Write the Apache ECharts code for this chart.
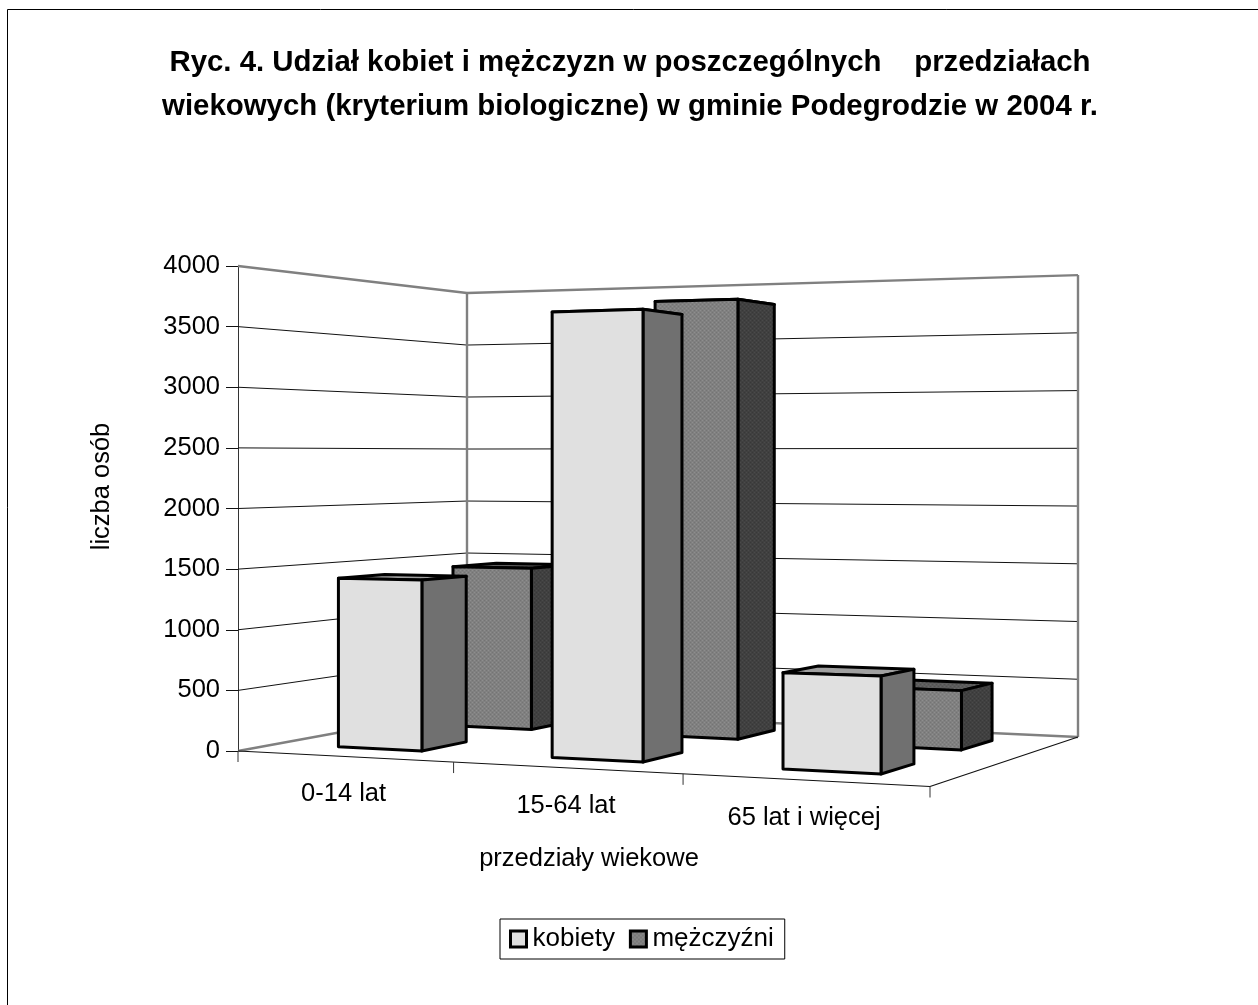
<!DOCTYPE html>
<html>
<head>
<meta charset="utf-8">
<style>html,body{margin:0;padding:0;background:#fff;overflow:hidden}#c{width:1258px;height:1005px}</style>
<script src="https://cdn.jsdelivr.net/npm/echarts@6/dist/echarts.min.js"></script>
</head>
<body>
<div id="c"></div>
<script>
var categories = ['0-14 lat', '15-64 lat', '65 lat i więcej'];
var kobiety = [1410, 3590, 745];
var mezczyzni = [1435, 3780, 490];
var yTicks = [0, 500, 1000, 1500, 2000, 2500, 3000, 3500, 4000];
var categoryBounds = [0, 0.98, 1.977, 3];

var FONT = '"Liberation Sans", Arial, sans-serif';
var gridBox = {left: 238, top: 266, width: 692, height: 485};
// picture of the unit floor: front-left, front-right, back-right, back-left
var floorQuad = [[238, 751], [930, 786.5], [1078, 737], [467, 709]];
var shrink = {u: -0.116, v: 0.166};
// bar edges inside each category band
var startsKobiety = [0.285, 0.283, 0.296];
var endsKobiety = [0.672, 0.686, 0.711];
var startsMezczyzni = [0.305, 0.305, 0.305];
var endsMezczyzni = [0.69, 0.695, 0.72];
var depthKobiety = [0.155, 0.35];
var depthMezczyzni = [0.64, 0.85];

var H = (function () {
  var q = floorQuad;
  var dx1 = q[1][0] - q[2][0], dx2 = q[3][0] - q[2][0], sx = q[0][0] - q[1][0] + q[2][0] - q[3][0];
  var dy1 = q[1][1] - q[2][1], dy2 = q[3][1] - q[2][1], sy = q[0][1] - q[1][1] + q[2][1] - q[3][1];
  var det = dx1 * dy2 - dx2 * dy1;
  var g = (sx * dy2 - dx2 * sy) / det, h = (dx1 * sy - sx * dy1) / det;
  return {
    a: q[1][0] - q[0][0] + g * q[1][0], b: q[3][0] - q[0][0] + h * q[3][0], c: q[0][0],
    d: q[1][1] - q[0][1] + g * q[1][1], e: q[3][1] - q[0][1] + h * q[3][1], f: q[0][1],
    g: g, h: h
  };
})();

// front-plane pixel from the axes -> picture pixel at a depth
function project(p, v) {
  var u = (p[0] - gridBox.left) / gridBox.width;
  var rise = gridBox.top + gridBox.height - p[1];
  var w = H.g * u + H.h * v + 1;
  var X = (H.a * u + H.b * v + H.c) / w;
  var Y = (H.d * u + H.e * v + H.f) / w;
  return [X, Y - rise / (1 + shrink.u * u + shrink.v * v)];
}
function at(api, x, val, v) { return project(api.coord([x, val]), v); }

function tile(base, dark, light) {
  var c = document.createElement('canvas');
  c.width = 4; c.height = 4;
  var t = c.getContext('2d');
  t.fillStyle = base; t.fillRect(0, 0, 4, 4);
  t.fillStyle = dark; t.fillRect(0, 0, 1, 1); t.fillRect(2, 2, 1, 1);
  t.fillStyle = light; t.fillRect(2, 0, 1, 1); t.fillRect(0, 2, 1, 1);
  return {image: c, repeat: 'repeat'};
}
var fillsK = {front: '#e0e0e0', side: '#707070', top: '#a0a0a0'};
var fillsM = {
  front: tile('#808080', '#747474', '#8e8e8e'),
  side: tile('#404040', '#383838', '#4a4a4a'),
  top: tile('#5c5c5c', '#525252', '#666666')
};

function poly(points, fill) {
  return {type: 'polygon', shape: {points: points},
    style: {fill: fill, stroke: '#000', lineWidth: 3, lineJoin: 'round'}, silent: true};
}
function line(a, b, color, width) {
  return {type: 'polyline', shape: {points: [a, b]},
    style: {fill: null, stroke: color, lineWidth: width}, silent: true};
}
function barRenderer(starts, ends, depth, fills) {
  return function (params, api) {
    var i = api.value(0), val = api.value(1);
    var x0 = categoryBounds[i] + starts[i], x1 = categoryBounds[i] + ends[i], v0 = depth[0], v1 = depth[1];
    var fb0 = at(api, x0, 0, v0), fb1 = at(api, x1, 0, v0), bb1 = at(api, x1, 0, v1);
    var ft0 = at(api, x0, val, v0), ft1 = at(api, x1, val, v0);
    var bt1 = at(api, x1, val, v1), bt0 = at(api, x0, val, v1);
    return {type: 'group', children: [
      poly([ft0, ft1, bt1, bt0], fills.top),
      poly([fb1, bb1, bt1, ft1], fills.side),
      poly([fb0, fb1, ft1, ft0], fills.front)
    ]};
  };
}
var W = 3, TOP = yTicks[yTicks.length - 1];

var option = {
  animation: false,
  backgroundColor: '#fff',
  title: {
    text: 'Ryc. 4. Udział kobiet i mężczyzn w poszczególnych    przedziałach\nwiekowych (kryterium biologiczne) w gminie Podegrodzie w 2004 r.',
    left: 625, top: 36, textAlign: 'center',
    textStyle: {fontFamily: FONT, fontWeight: 'bold', fontSize: 29.4, lineHeight: 44, color: '#000'}
  },
  graphic: [{type: 'rect', silent: true, shape: {x: 7.5, y: 9.5, width: 1400, height: 1200},
    style: {fill: null, stroke: '#000', lineWidth: 1}}],
  grid: gridBox,
  legend: {
    left: 500, top: 919, orient: 'horizontal', padding: [7, 11, 7, 9],
    itemWidth: 16, itemHeight: 16, itemGap: 14,
    borderColor: '#000', borderWidth: 1, backgroundColor: '#fff',
    textStyle: {fontFamily: FONT, fontSize: 26, color: '#000', padding: [0, 0, 0, 1]},
    data: [
      {name: 'kobiety', icon: 'rect', itemStyle: {color: fillsK.front, borderColor: '#000', borderWidth: 3}},
      {name: 'mężczyźni', icon: 'rect', itemStyle: {color: fillsM.front, borderColor: '#000', borderWidth: 3}}
    ]
  },
  xAxis: {
    type: 'value', min: 0, max: W, interval: 1,
    axisLine: {show: false}, axisTick: {show: false}, axisLabel: {show: false}, splitLine: {show: false},
    name: 'przedziały wiekowe', nameLocation: 'middle', nameGap: 95,
    nameTextStyle: {fontFamily: FONT, fontSize: 25.5, color: '#000', padding: [0, 0, 0, 10]}
  },
  yAxis: {
    type: 'value', min: 0, max: TOP, interval: 500,
    axisLine: {show: true, lineStyle: {color: '#333', width: 1}},
    axisTick: {show: true, length: 12, lineStyle: {color: '#111', width: 1}},
    axisLabel: {fontFamily: FONT, fontSize: 25.5, color: '#000', margin: 18,
      formatter: function (v) { return String(v); }},
    splitLine: {show: false},
    name: 'liczba osób', nameLocation: 'middle', nameGap: 123, nameRotate: 90,
    nameTextStyle: {fontFamily: FONT, fontSize: 25.5, color: '#000', padding: [0, 0, 0, 44]}
  },
  series: [
    {
      type: 'custom', name: 'siatka', silent: true, z: 1,
      data: yTicks.map(function (t) { return [0, t]; }),
      encode: {x: 0, y: 1},
      renderItem: function (params, api) {
        var t = api.value(1);
        var a = at(api, 0, t, 0), b = at(api, 0, t, 1), c = at(api, W, t, 1);
        var kids = [];
        if (t > 0 && t < TOP) {
          kids.push(line(a, b, '#111', 1), line(b, c, '#111', 1));
        }
        return {type: 'group', children: kids};
      }
    },
    {
      type: 'custom', name: 'ściany', silent: true, z: 1,
      data: [[0, TOP]],
      encode: {x: 0, y: 1},
      renderItem: function (params, api) {
        var G = '#808080', w = 2.4;
        var tl = at(api, 0, TOP, 0), tb = at(api, 0, TOP, 1), tr = at(api, W, TOP, 1);
        var fl = at(api, 0, 0, 0), bl = at(api, 0, 0, 1), br = at(api, W, 0, 1), fr = at(api, W, 0, 0);
        return {type: 'group', children: [
          line(tl, tb, G, w), line(tb, tr, G, w), line(tb, bl, G, w), line(tr, br, G, w),
          line(fl, bl, G, w), line(bl, br, G, w),
          line(fl, fr, '#111', 1.2), line(fr, br, '#111', 1.2)
        ]};
      }
    },
    {
      type: 'custom', name: 'podziałka', silent: true, z: 1,
      data: categoryBounds.map(function (b) { return [b, 0]; }),
      encode: {x: 0, y: 1},
      renderItem: function (params, api) {
        var p = at(api, api.value(0), 0, 0);
        return line(p, [p[0], p[1] + 11], '#333', 1);
      }
    },
    {
      type: 'custom', name: 'kategorie', silent: true, z: 1,
      data: categories.map(function (c, i) { return [(categoryBounds[i] + categoryBounds[i + 1]) / 2, 0]; }),
      encode: {x: 0, y: 1},
      renderItem: function (params, api) {
        var p = at(api, api.value(0), 0, 0);
        return {type: 'text', silent: true, x: p[0] - 1, y: p[1] + 38,
          style: {text: categories[params.dataIndex], font: '25.5px ' + FONT, fill: '#000',
            textAlign: 'center', textVerticalAlign: 'middle'}};
      }
    },
    {
      type: 'custom', name: 'mężczyźni', silent: true, z: 2,
      itemStyle: {color: '#808080'},
      data: mezczyzni.map(function (v, i) { return [i, v]; }),
      encode: {x: 0, y: 1},
      renderItem: barRenderer(startsMezczyzni, endsMezczyzni, depthMezczyzni, fillsM)
    },
    {
      type: 'custom', name: 'kobiety', silent: true, z: 3,
      itemStyle: {color: '#e0e0e0'},
      data: kobiety.map(function (v, i) { return [i, v]; }),
      encode: {x: 0, y: 1},
      renderItem: barRenderer(startsKobiety, endsKobiety, depthKobiety, fillsK)
    }
  ]
};
echarts.init(document.getElementById('c'), null, {renderer: 'canvas'}).setOption(option);
</script>
</body>
</html>
